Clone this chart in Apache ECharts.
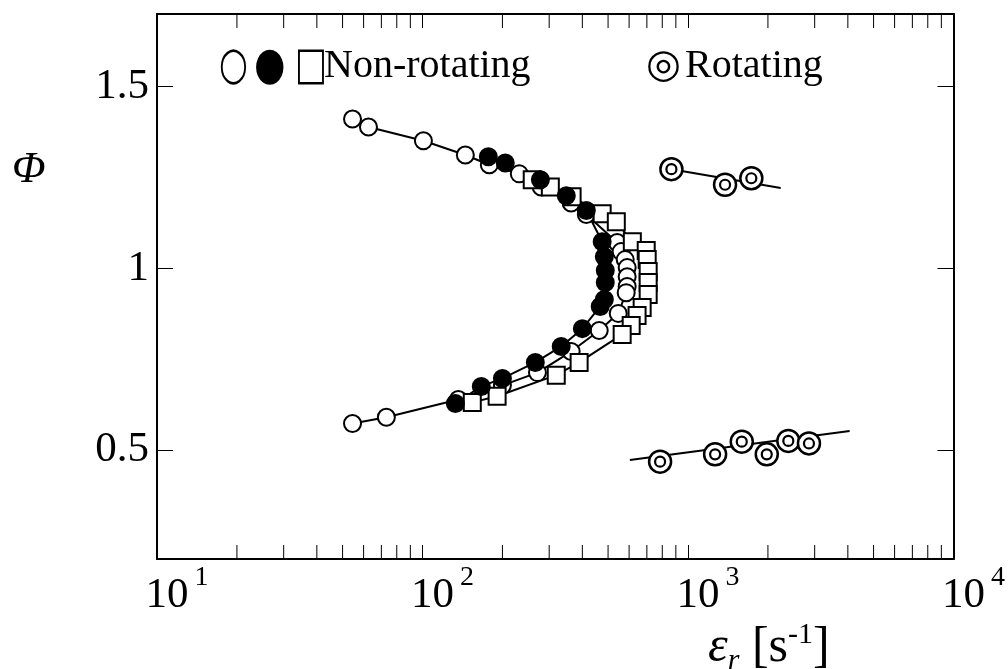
<!DOCTYPE html>
<html><head><meta charset="utf-8">
<script src="https://cdn.jsdelivr.net/npm/echarts@6/dist/echarts.min.js"></script>
<style>html,body{margin:0;padding:0;background:#fff}#c{width:1008px;height:669px}</style>
</head><body><div id="c"></div>
<script>
// Non-rotating, open circles
const openX = [54.5, 62.6, 100.8, 145, 178.5, 231.5, 280, 363, 414, 541, 560, 580, 590, 590, 590, 585, 546, 463, 363, 271, 200, 136.5, 73.1, 54.5];
const openY = [1.411, 1.389, 1.351, 1.312, 1.285, 1.260, 1.224, 1.180, 1.148, 1.071, 1.046, 1.024, 1.002, 0.977, 0.950, 0.933, 0.876, 0.829, 0.771, 0.713, 0.678, 0.639, 0.590, 0.573];
// Non-rotating, filled circles
const filledX = [177, 205, 278, 348, 414, 475, 484, 488, 488, 484, 467, 400, 333, 266, 200, 166.5, 133];
const filledY = [1.307, 1.290, 1.244, 1.200, 1.159, 1.073, 1.032, 0.994, 0.961, 0.914, 0.895, 0.834, 0.785, 0.741, 0.697, 0.675, 0.628];
// Non-rotating, squares
const squareX = [259, 303, 366, 475, 537, 617, 696, 702, 708, 708, 708, 672, 643, 611, 565, 389, 319, 191, 154];
const squareY = [1.244, 1.224, 1.197, 1.150, 1.128, 1.073, 1.049, 1.024, 0.991, 0.961, 0.928, 0.892, 0.870, 0.843, 0.818, 0.741, 0.706, 0.648, 0.631];
// Rotating, rich branch
const rotHighX = [866, 1379, 1732];
const rotHighY = [1.273, 1.230, 1.248];
const rotHighFitX = [866, 2234];
const rotHighFitY = [1.273, 1.221];
// Rotating, lean branch
const rotLowX = [785, 1265, 1594, 1980, 2387, 2855];
const rotLowY = [0.468, 0.488, 0.523, 0.488, 0.525, 0.518];
const rotLowFitX = [604, 4062];
const rotLowFitY = [0.4725, 0.552];
// Axes
const xMin = 10, xMax = 10000;
const yMin = 0.2, yMax = 1.7;
const yTickValues = [0.5, 1, 1.5];
const xMinorTicks = [20,30,40,50,60,70,80,90,200,300,400,500,600,700,800,900,2000,3000,4000,5000,6000,7000,8000,9000];
// Texts
const legendNonRot = 'Non-rotating';
const legendRot = 'Rotating';

const zip = (xs, ys) => xs.map((x, i) => [x, ys[i]]);
const SERIF = 'Liberation Serif, Times New Roman, serif';
const SYM = 'DejaVu Sans, sans-serif';

const chart = echarts.init(document.getElementById('c'), null, {renderer: 'canvas'});

function lineSeries(xs, ys) {
  return {type: 'line', data: zip(xs, ys), showSymbol: false, symbol: 'none',
    lineStyle: {color: '#000', width: 2}, z: 2, silent: true, animation: false};
}
function scatter(xs, ys, symbol, size, fill, bw, z) {
  return {type: 'scatter', data: zip(xs, ys), symbol: symbol, symbolSize: size,
    itemStyle: {color: fill, borderColor: '#000', borderWidth: bw, opacity: 1}, z: z, silent: true, animation: false};
}

const option = {
  backgroundColor: '#fff',
  animation: false,
  grid: {left: 157, top: 14, right: 53, bottom: 110, containLabel: false},
  xAxis: [{
    type: 'log', logBase: 10, min: xMin, max: xMax, position: 'bottom',
    axisLine: {show: true, lineStyle: {color: '#000', width: 2}},
    axisTick: {show: true, inside: true, length: 14, lineStyle: {color: '#000', width: 1}},
    splitLine: {show: false},
    axisLabel: {
      margin: 4,
      formatter: v => '{p| }{b|10}{s|' + Math.round(Math.log10(v)) + '}',
      rich: {
        p: {width: 40, fontSize: 43, fontFamily: SERIF, lineHeight: 54, verticalAlign: 'bottom'},
        b: {fontSize: 43, fontFamily: SERIF, color: '#000', lineHeight: 54, verticalAlign: 'bottom'},
        s: {fontSize: 28, fontFamily: SERIF, color: '#000', lineHeight: 28, verticalAlign: 'bottom', padding: [0, 0, 25, 6]}
      }
    }
  }, {
    type: 'log', logBase: 10, min: xMin, max: xMax, position: 'top',
    axisLine: {show: true, lineStyle: {color: '#000', width: 2}},
    axisTick: {show: true, inside: true, length: 14, lineStyle: {color: '#000', width: 1}},
    splitLine: {show: false}, axisLabel: {show: false}
  }],
  yAxis: [{
    type: 'value', min: yMin, max: yMax, position: 'left',
    axisLine: {show: true, lineStyle: {color: '#000', width: 2}},
    axisTick: {show: true, inside: true, length: 16, lineStyle: {color: '#000', width: 1}, customValues: yTickValues},
    splitLine: {show: false},
    axisLabel: {margin: 8, fontSize: 43, fontFamily: SERIF, color: '#000', customValues: yTickValues,
      formatter: v => String(v)}
  }, {
    type: 'value', min: yMin, max: yMax, position: 'right',
    axisLine: {show: true, lineStyle: {color: '#000', width: 2}},
    axisTick: {show: true, inside: true, length: 16, lineStyle: {color: '#000', width: 1}, customValues: yTickValues},
    splitLine: {show: false}, axisLabel: {show: false}
  }],
  series: [
    {
      type: 'custom', silent: true, z: 1, animation: false,
      data: xMinorTicks.map(v => [v, yMin]),
      renderItem: function (params, api) {
        const b = api.coord([api.value(0), yMin]);
        const t = api.coord([api.value(0), yMax]);
        const st = {stroke: '#000', lineWidth: 1};
        return {type: 'group', children: [
          {type: 'line', shape: {x1: b[0], y1: b[1], x2: b[0], y2: b[1] - 14}, style: st},
          {type: 'line', shape: {x1: t[0], y1: t[1], x2: t[0], y2: t[1] + 14}, style: st}
        ]};
      }
    },
    lineSeries(openX, openY),
    lineSeries(squareX, squareY),
    lineSeries(filledX, filledY),
    lineSeries(rotHighFitX, rotHighFitY),
    lineSeries(rotLowFitX, rotLowFitY),
    scatter(openX, openY, 'circle', 17, '#fff', 2, 3),
    scatter(squareX, squareY, 'rect', 17, '#fff', 2, 4),
    scatter(filledX, filledY, 'circle', 17, '#000', 2, 5),
    scatter(rotHighX, rotHighY, 'circle', 22, '#fff', 2.5, 6),
    scatter(rotHighX, rotHighY, 'circle', 10, '#fff', 2.2, 7),
    scatter(rotLowX, rotLowY, 'circle', 22, '#fff', 2.5, 6),
    scatter(rotLowX, rotLowY, 'circle', 10, '#fff', 2.2, 7)
  ],
  graphic: [
    {type: 'text', x: 219, y: 67, scaleX: 0.72, style: {text: '○', font: '46px ' + SYM, fill: '#000', textVerticalAlign: 'middle'}},
    {type: 'text', x: 254, y: 67, scaleX: 0.78, style: {text: '●', font: '46px ' + SYM, fill: '#000', textVerticalAlign: 'middle'}},
    {type: 'text', x: 295, y: 67, scaleX: 0.74, style: {text: '□', font: '46px ' + SYM, fill: '#000', textVerticalAlign: 'middle'}},
    {type: 'text', x: 324, y: 66, style: {text: legendNonRot, font: '40px ' + SERIF, fill: '#000', textVerticalAlign: 'middle'}},
    {type: 'text', x: 646, y: 67, style: {text: '◎', font: '40px ' + SYM, fill: '#000', textVerticalAlign: 'middle'}},
    {type: 'text', x: 685, y: 66, style: {text: legendRot, font: '40px ' + SERIF, fill: '#000', textVerticalAlign: 'middle'}},
    {type: 'text', left: 12, top: 148, style: {text: 'Φ', font: 'italic 44px ' + SERIF, fill: '#000'}},
    {type: 'text', x: 708, y: 648, style: {
      text: '{e|ε}{r|r}{n| [s}{s|-1}{n|]}',
      textVerticalAlign: 'middle',
      rich: {
        e: {fontSize: 50, fontStyle: 'italic', fontFamily: SERIF, fill: '#000', lineHeight: 56},
        r: {fontSize: 30, fontStyle: 'italic', fontFamily: SERIF, fill: '#000', lineHeight: 30, verticalAlign: 'bottom'},
        n: {fontSize: 50, fontFamily: SERIF, fill: '#000', lineHeight: 56},
        s: {fontSize: 30, fontFamily: SERIF, fill: '#000', lineHeight: 30, verticalAlign: 'top'}
      }
    }}
  ]
};
chart.setOption(option);
</script>
</body></html>
